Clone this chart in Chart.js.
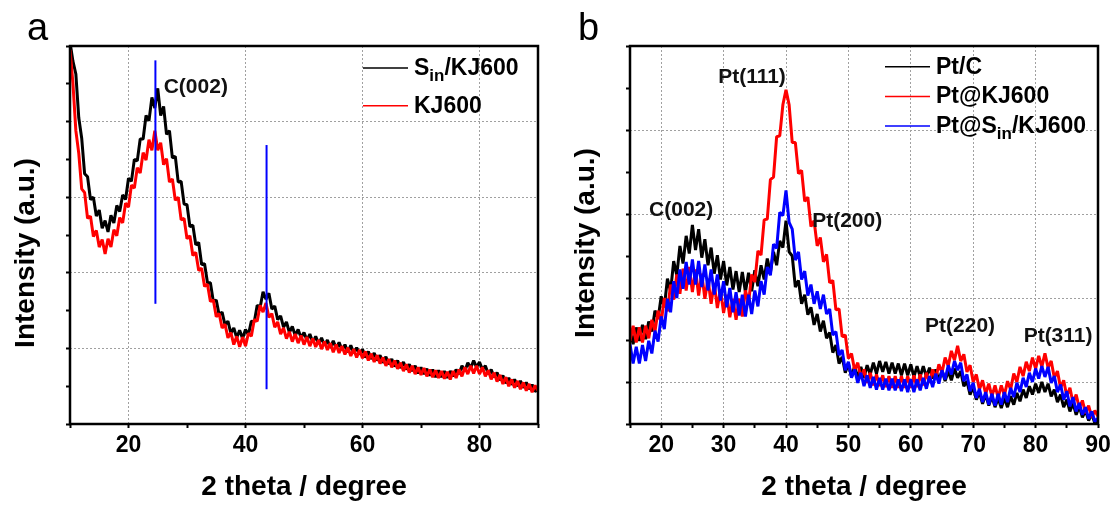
<!DOCTYPE html>
<html>
<head>
<meta charset="utf-8">
<script src="https://cdn.jsdelivr.net/npm/chart.js@4/dist/chart.umd.min.js"></script>
<style>
  body { margin: 0; background: #fff; width: 1117px; height: 506px; position: relative; overflow: hidden; }
  canvas { position: absolute; top: 0; }
  #panelA { left: 0; }
  #panelB { left: 560px; }
</style>
</head>
<body>
<canvas id="panelA" width="560" height="506"></canvas>
<canvas id="panelB" width="557" height="506"></canvas>
<script>
const FONT = "'Liberation Sans', Arial, sans-serif";
Chart.defaults.font.family = FONT;
Chart.defaults.color = "#000";

// 2 theta sampling, degrees
const anglesA = [
  10, 10.5, 11, 11.5, 12, 12.5, 13, 13.5, 14, 14.5, 15, 15.5, 16, 16.5, 17, 17.5, 18, 18.5, 19, 19.5,
  20, 20.5, 21, 21.5, 22, 22.5, 23, 23.5, 24, 24.5, 25, 25.5, 26, 26.5, 27, 27.5, 28, 28.5, 29, 29.5,
  30, 30.5, 31, 31.5, 32, 32.5, 33, 33.5, 34, 34.5, 35, 35.5, 36, 36.5, 37, 37.5, 38, 38.5, 39, 39.5,
  40, 40.5, 41, 41.5, 42, 42.5, 43, 43.5, 44, 44.5, 45, 45.5, 46, 46.5, 47, 47.5, 48, 48.5, 49, 49.5,
  50, 50.5, 51, 51.5, 52, 52.5, 53, 53.5, 54, 54.5, 55, 55.5, 56, 56.5, 57, 57.5, 58, 58.5, 59, 59.5,
  60, 60.5, 61, 61.5, 62, 62.5, 63, 63.5, 64, 64.5, 65, 65.5, 66, 66.5, 67, 67.5, 68, 68.5, 69, 69.5,
  70, 70.5, 71, 71.5, 72, 72.5, 73, 73.5, 74, 74.5, 75, 75.5, 76, 76.5, 77, 77.5, 78, 78.5, 79, 79.5,
  80, 80.5, 81, 81.5, 82, 82.5, 83, 83.5, 84, 84.5, 85, 85.5, 86, 86.5, 87, 87.5, 88, 88.5, 89, 89.5,
  90
];
const anglesB = [
  15, 15.5, 16, 16.5, 17, 17.5, 18, 18.5, 19, 19.5,
  20, 20.5, 21, 21.5, 22, 22.5, 23, 23.5, 24, 24.5, 25, 25.5, 26, 26.5, 27, 27.5, 28, 28.5, 29, 29.5,
  30, 30.5, 31, 31.5, 32, 32.5, 33, 33.5, 34, 34.5, 35, 35.5, 36, 36.5, 37, 37.5, 38, 38.5, 39, 39.5,
  40, 40.5, 41, 41.5, 42, 42.5, 43, 43.5, 44, 44.5, 45, 45.5, 46, 46.5, 47, 47.5, 48, 48.5, 49, 49.5,
  50, 50.5, 51, 51.5, 52, 52.5, 53, 53.5, 54, 54.5, 55, 55.5, 56, 56.5, 57, 57.5, 58, 58.5, 59, 59.5,
  60, 60.5, 61, 61.5, 62, 62.5, 63, 63.5, 64, 64.5, 65, 65.5, 66, 66.5, 67, 67.5, 68, 68.5, 69, 69.5,
  70, 70.5, 71, 71.5, 72, 72.5, 73, 73.5, 74, 74.5, 75, 75.5, 76, 76.5, 77, 77.5, 78, 78.5, 79, 79.5,
  80, 80.5, 81, 81.5, 82, 82.5, 83, 83.5, 84, 84.5, 85, 85.5, 86, 86.5, 87, 87.5, 88, 88.5, 89, 89.5,
  90
];

// panel a intensities (a.u.)
const sinKJ600 = [
  5.05, 4.80, 4.63, 4.05, 3.78, 3.31, 3.27, 2.97, 3.00, 2.75,
  2.83, 2.59, 2.69, 2.54, 2.76, 2.66, 2.89, 2.81, 3.03, 2.97,
  3.25, 3.21, 3.50, 3.48, 3.77, 3.77, 4.08, 4.01, 4.32, 4.18,
  4.44, 4.08, 4.20, 3.83, 3.88, 3.52, 3.54, 3.20, 3.21, 2.91,
  2.90, 2.61, 2.63, 2.37, 2.40, 2.11, 2.12, 1.87, 1.87, 1.62,
  1.64, 1.44, 1.48, 1.31, 1.36, 1.20, 1.27, 1.14, 1.24, 1.13,
  1.25, 1.18, 1.36, 1.35, 1.57, 1.54, 1.75, 1.65, 1.73, 1.52,
  1.56, 1.38, 1.43, 1.28, 1.35, 1.21, 1.29, 1.17, 1.25, 1.14,
  1.21, 1.11, 1.19, 1.08, 1.16, 1.06, 1.14, 1.04, 1.11, 1.01,
  1.10, 1.00, 1.08, 0.98, 1.05, 0.95, 1.04, 0.94, 1.01, 0.92,
  0.99, 0.88, 0.96, 0.86, 0.94, 0.84, 0.91, 0.81, 0.89, 0.79,
  0.86, 0.76, 0.84, 0.74, 0.82, 0.72, 0.79, 0.70, 0.77, 0.67,
  0.75, 0.66, 0.73, 0.64, 0.72, 0.62, 0.71, 0.62, 0.70, 0.61,
  0.70, 0.63, 0.72, 0.66, 0.77, 0.70, 0.81, 0.74, 0.84, 0.75,
  0.82, 0.72, 0.77, 0.66, 0.72, 0.62, 0.68, 0.58, 0.64, 0.54,
  0.61, 0.52, 0.59, 0.50, 0.57, 0.48, 0.55, 0.46, 0.52, 0.43,
  0.46
];
const kj600 = [
  4.95, 4.51, 3.88, 3.58, 3.11, 3.06, 2.72, 2.75, 2.48, 2.56,
  2.34, 2.44, 2.25, 2.45, 2.34, 2.57, 2.49, 2.73, 2.66, 2.92,
  2.87, 3.16, 3.12, 3.39, 3.32, 3.59, 3.49, 3.76, 3.62, 3.88,
  3.62, 3.72, 3.43, 3.51, 3.20, 3.24, 2.96, 3.00, 2.70, 2.72,
  2.45, 2.49, 2.23, 2.27, 2.03, 2.06, 1.82, 1.85, 1.62, 1.64,
  1.42, 1.46, 1.27, 1.32, 1.14, 1.21, 1.05, 1.16, 1.02, 1.15,
  1.03, 1.20, 1.16, 1.38, 1.36, 1.57, 1.48, 1.60, 1.41, 1.46,
  1.28, 1.35, 1.19, 1.27, 1.13, 1.22, 1.09, 1.19, 1.07, 1.17,
  1.05, 1.15, 1.03, 1.13, 1.02, 1.11, 0.99, 1.09, 0.98, 1.07,
  0.95, 1.05, 0.94, 1.03, 0.92, 1.01, 0.90, 0.99, 0.88, 0.98,
  0.87, 0.96, 0.84, 0.93, 0.82, 0.91, 0.80, 0.88, 0.77, 0.86,
  0.75, 0.84, 0.73, 0.81, 0.70, 0.79, 0.68, 0.77, 0.66, 0.75,
  0.65, 0.74, 0.63, 0.72, 0.62, 0.71, 0.61, 0.70, 0.60, 0.69,
  0.59, 0.70, 0.61, 0.72, 0.63, 0.75, 0.66, 0.77, 0.67, 0.77,
  0.66, 0.75, 0.63, 0.71, 0.59, 0.68, 0.56, 0.65, 0.53, 0.62,
  0.50, 0.59, 0.48, 0.57, 0.46, 0.55, 0.44, 0.53, 0.42, 0.51,
  0.44
];

// panel b intensities (a.u.)
const ptC = [
  1.12, 0.95, 1.15, 0.99, 1.18, 1.01, 1.22, 1.10, 1.35, 1.25,
  1.52, 1.39, 1.73, 1.58, 1.94, 1.77, 2.12, 1.91, 2.24, 2.03,
  2.37, 2.07, 2.32, 1.98, 2.20, 1.89, 2.10, 1.79, 2.01, 1.72,
  1.94, 1.65, 1.87, 1.60, 1.82, 1.57, 1.81, 1.57, 1.80, 1.58,
  1.83, 1.64, 1.89, 1.72, 1.97, 1.80, 2.05, 1.89, 2.18, 2.10,
  2.42, 2.05, 2.00, 1.63, 1.71, 1.43, 1.54, 1.30, 1.39, 1.18,
  1.31, 1.10, 1.23, 1.02, 1.09, 0.85, 0.94, 0.72, 0.80, 0.61,
  0.72, 0.56, 0.69, 0.55, 0.68, 0.55, 0.70, 0.59, 0.73, 0.60,
  0.75, 0.62, 0.74, 0.60, 0.73, 0.60, 0.72, 0.58, 0.72, 0.58,
  0.71, 0.56, 0.69, 0.56, 0.69, 0.56, 0.67, 0.54, 0.65, 0.52,
  0.64, 0.51, 0.63, 0.52, 0.66, 0.55, 0.63, 0.45, 0.51, 0.35,
  0.44, 0.29, 0.38, 0.24, 0.35, 0.22, 0.33, 0.20, 0.31, 0.19,
  0.31, 0.20, 0.33, 0.23, 0.37, 0.27, 0.41, 0.31, 0.45, 0.35,
  0.48, 0.37, 0.50, 0.38, 0.48, 0.33, 0.41, 0.26, 0.35, 0.20,
  0.29, 0.15, 0.25, 0.11, 0.21, 0.08, 0.16, 0.04, 0.12, 0.01,
  0.04
];
const ptKJ600 = [
  0.99, 1.17, 0.97, 1.15, 0.97, 1.17, 1.02, 1.24, 1.10, 1.35,
  1.21, 1.50, 1.34, 1.66, 1.48, 1.78, 1.55, 1.85, 1.59, 1.87,
  1.57, 1.84, 1.53, 1.79, 1.49, 1.73, 1.43, 1.68, 1.38, 1.60,
  1.32, 1.54, 1.27, 1.49, 1.24, 1.49, 1.28, 1.59, 1.44, 1.78,
  1.69, 2.06, 2.01, 2.43, 2.44, 2.91, 2.94, 3.42, 3.43, 3.80,
  3.98, 3.80, 3.35, 3.35, 2.98, 3.02, 2.65, 2.70, 2.35, 2.42,
  2.12, 2.22, 1.93, 2.02, 1.68, 1.71, 1.36, 1.37, 1.04, 1.06,
  0.78, 0.84, 0.64, 0.73, 0.55, 0.65, 0.49, 0.61, 0.46, 0.59,
  0.45, 0.58, 0.44, 0.57, 0.43, 0.57, 0.43, 0.57, 0.43, 0.57,
  0.43, 0.58, 0.44, 0.59, 0.46, 0.61, 0.49, 0.65, 0.54, 0.71,
  0.61, 0.79, 0.69, 0.87, 0.76, 0.93, 0.75, 0.83, 0.62, 0.70,
  0.50, 0.59, 0.41, 0.52, 0.36, 0.48, 0.33, 0.46, 0.31, 0.46,
  0.34, 0.51, 0.41, 0.60, 0.50, 0.68, 0.57, 0.74, 0.63, 0.79,
  0.66, 0.81, 0.68, 0.84, 0.67, 0.75, 0.55, 0.63, 0.43, 0.52,
  0.33, 0.43, 0.25, 0.35, 0.19, 0.28, 0.13, 0.22, 0.08, 0.16,
  0.09
];
const ptSinKJ600 = [
  0.95, 0.72, 0.92, 0.72, 0.94, 0.75, 0.99, 0.84, 1.11, 0.98,
  1.28, 1.13, 1.49, 1.33, 1.70, 1.50, 1.84, 1.61, 1.93, 1.66,
  1.96, 1.66, 1.94, 1.63, 1.90, 1.59, 1.84, 1.54, 1.78, 1.47,
  1.70, 1.39, 1.62, 1.33, 1.57, 1.29, 1.54, 1.28, 1.54, 1.31,
  1.59, 1.40, 1.70, 1.54, 1.87, 1.77, 2.14, 2.09, 2.52, 2.48,
  2.78, 2.40, 2.32, 1.95, 2.05, 1.72, 1.82, 1.53, 1.66, 1.43,
  1.58, 1.37, 1.54, 1.31, 1.37, 1.06, 1.10, 0.82, 0.88, 0.64,
  0.74, 0.55, 0.65, 0.49, 0.61, 0.45, 0.58, 0.43, 0.56, 0.41,
  0.55, 0.41, 0.54, 0.40, 0.54, 0.40, 0.53, 0.39, 0.53, 0.38,
  0.53, 0.38, 0.53, 0.40, 0.55, 0.42, 0.57, 0.44, 0.60, 0.48,
  0.64, 0.53, 0.70, 0.59, 0.75, 0.64, 0.73, 0.51, 0.59, 0.39,
  0.49, 0.31, 0.42, 0.26, 0.38, 0.23, 0.36, 0.22, 0.36, 0.23,
  0.38, 0.26, 0.43, 0.32, 0.49, 0.38, 0.55, 0.44, 0.61, 0.50,
  0.66, 0.54, 0.69, 0.56, 0.68, 0.49, 0.57, 0.38, 0.47, 0.29,
  0.39, 0.21, 0.32, 0.15, 0.25, 0.11, 0.20, 0.06, 0.15, 0.03,
  0.07
];

// blue guide lines in panel a: position and span
const markerAngles = [24.6, 43.6];
const markerLows = [1.59, 0.46];
const markerHighs = [4.81, 3.69];

// peak names, anchored in data coordinates
const peakLabelsA = [{ text: "C(002)", x: 31.5, y: 4.46 }];
const peakLabelsB = [
  { text: "Pt(111)", x: 34.55, y: 4.13 },
  { text: "C(002)", x: 23.2, y: 2.55 },
  { text: "Pt(200)", x: 49.8, y: 2.41 },
  { text: "Pt(220)", x: 67.9, y: 1.16 },
  { text: "Pt(311)", x: 83.6, y: 1.04 },
];

// axis ticks
const xTicksA = [10, 20, 30, 40, 50, 60, 70, 80, 90];
const xLabelsA = [20, 40, 60, 80];
const xGridA = [20, 40, 60, 80];
const yTicksA = [0, 0.5, 1, 1.5, 2, 2.5, 3, 3.5, 4, 4.5, 5];
const yGridA = [1, 2, 3, 4];

const xTicksB = [15, 20, 25, 30, 35, 40, 45, 50, 55, 60, 65, 70, 75, 80, 85, 90];
const xLabelsB = [20, 30, 40, 50, 60, 70, 80, 90];
const xGridB = [20, 30, 40, 50, 60, 70, 80];
const yTicksB = [0, 0.5, 1, 1.5, 2, 2.5, 3, 3.5, 4, 4.5];
const yGridB = [0.5, 1.5, 2.5, 3.5];

const GRID = "#a0a0a0";
const NONE = "rgba(0,0,0,0)";

const toPoints = (xs, ys) => xs.map((x, i) => ({ x: x, y: ys[i] }));

// text with _{...} parts drawn as subscripts
const drawRich = (ctx, text, x, y, size) => {
  const parts = text.split(/_\{(.*?)\}/);
  let cx = x;
  parts.forEach((p, i) => {
    const sub = i % 2 === 1;
    ctx.font = `bold ${sub ? Math.round(size * 0.72) : size}px ${FONT}`;
    ctx.fillText(p, cx, sub ? y + 6 : y);
    cx += ctx.measureText(p).width;
  });
};

const panelDecor = {
  id: "panelDecor",
  afterDraw(chart, args, o) {
    const { ctx, chartArea: a, scales: { x, y } } = chart;
    ctx.save();
    ctx.strokeStyle = "#000";
    ctx.lineWidth = 2.5;
    ctx.strokeRect(a.left, a.top, a.right - a.left, a.bottom - a.top);

    ctx.fillStyle = "#000";
    ctx.textAlign = "left";
    ctx.textBaseline = "alphabetic";
    ctx.font = `38px ${FONT}`;
    ctx.fillText(o.letter, o.letterX, o.letterY);

    ctx.save();
    ctx.translate(o.yTitleX, o.yTitleY);
    ctx.rotate(-Math.PI / 2);
    ctx.font = `bold 28px ${FONT}`;
    ctx.textAlign = "center";
    ctx.textBaseline = "middle";
    ctx.fillText("Intensity (a.u.)", 0, 0);
    ctx.restore();

    chart.data.datasets.filter(d => d.inLegend).forEach((d, i) => {
      const ly = o.legendY + i * o.legendGap;
      ctx.strokeStyle = d.borderColor;
      ctx.lineWidth = 1.5;
      ctx.beginPath();
      ctx.moveTo(o.legendX, ly);
      ctx.lineTo(o.legendX + 45, ly);
      ctx.stroke();
      ctx.textAlign = "left";
      ctx.textBaseline = "alphabetic";
      drawRich(ctx, d.label, o.legendX + 51, ly + 7, 23);
    });

    ctx.font = `bold 21px ${FONT}`;
    ctx.fillStyle = "#111";
    ctx.textAlign = "center";
    ctx.textBaseline = "middle";
    o.peakLabels.forEach(p => {
      ctx.fillText(p.text, x.getPixelForValue(p.x), y.getPixelForValue(p.y));
    });
    ctx.restore();
  }
};

const makeScales = (xs, ys) => ({
  x: {
    type: "linear",
    min: xs.ticks[0],
    max: xs.ticks[xs.ticks.length - 1],
    afterBuildTicks: s => { s.ticks = xs.ticks.map(v => ({ value: v })); },
    afterFit: s => { s.height = 82; },
    ticks: {
      autoSkip: false,
      maxRotation: 0,
      padding: 4,
      font: { size: 23, weight: "bold" },
      callback: v => (xs.labels.includes(v) ? String(v) : ""),
    },
    grid: {
      color: c => (c.tick && xs.grid.includes(c.tick.value) ? GRID : NONE),
      lineWidth: 1,
      tickColor: "#000",
      tickLength: 4,
      tickWidth: 2,
    },
    border: { display: false, dash: [2, 2] },
    title: {
      display: true,
      text: "2 theta / degree",
      font: { size: 28, weight: "bold" },
      padding: { top: 0, bottom: 2 },
    },
  },
  y: {
    type: "linear",
    min: ys.ticks[0],
    max: ys.ticks[ys.ticks.length - 1],
    afterBuildTicks: s => { s.ticks = ys.ticks.map(v => ({ value: v })); },
    afterFit: s => { s.width = 70; },
    ticks: { display: false },
    grid: {
      color: c => (c.tick && ys.grid.includes(c.tick.value) ? GRID : NONE),
      lineWidth: 1,
      tickColor: "#000",
      tickLength: 4,
      tickWidth: 2,
    },
    border: { display: false, dash: [2, 2] },
  },
});

const makePanel = (id, datasets, scales, padRight, decor) => new Chart(document.getElementById(id), {
  type: "line",
  data: { datasets: datasets },
  options: {
    responsive: false,
    animation: false,
    events: [],
    layout: { padding: { left: 0, right: padRight, top: 46, bottom: 0 } },
    elements: {
      point: { radius: 0 },
      line: { borderWidth: 3, tension: 0, borderJoinStyle: "bevel" },
    },
    scales: scales,
    plugins: { legend: { display: false }, tooltip: { enabled: false }, panelDecor: decor },
  },
  plugins: [panelDecor],
});

const datasetsA = [
  { label: "S_{in}/KJ600", data: toPoints(anglesA, sinKJ600), borderColor: "#000000", order: 2, inLegend: true },
  { label: "KJ600", data: toPoints(anglesA, kj600), borderColor: "#ff0000", order: 1, inLegend: true },
  ...markerAngles.map((a, i) => ({
    label: "guide",
    data: [{ x: a, y: markerLows[i] }, { x: a, y: markerHighs[i] }],
    borderColor: "#0000ff",
    borderWidth: 2,
    order: 0,
  })),
];

const datasetsB = [
  { label: "Pt/C", data: toPoints(anglesB, ptC), borderColor: "#000000", order: 3, inLegend: true },
  { label: "Pt@KJ600", data: toPoints(anglesB, ptKJ600), borderColor: "#ff0000", order: 2, inLegend: true },
  { label: "Pt@S_{in}/KJ600", data: toPoints(anglesB, ptSinKJ600), borderColor: "#0000ff", order: 1, inLegend: true },
];

makePanel("panelA", datasetsA,
  makeScales({ ticks: xTicksA, labels: xLabelsA, grid: xGridA }, { ticks: yTicksA, grid: yGridA }),
  22,
  { letter: "a", letterX: 27, letterY: 40, yTitleX: 26, yTitleY: 253,
    legendX: 363, legendY: 68, legendGap: 37.7, peakLabels: peakLabelsA });

makePanel("panelB", datasetsB,
  makeScales({ ticks: xTicksB, labels: xLabelsB, grid: xGridB }, { ticks: yTicksB, grid: yGridB }),
  19,
  { letter: "b", letterX: 18, letterY: 40, yTitleX: 26, yTitleY: 243,
    legendX: 325, legendY: 66.7, legendGap: 29.7, peakLabels: peakLabelsB });
</script>
</body>
</html>
